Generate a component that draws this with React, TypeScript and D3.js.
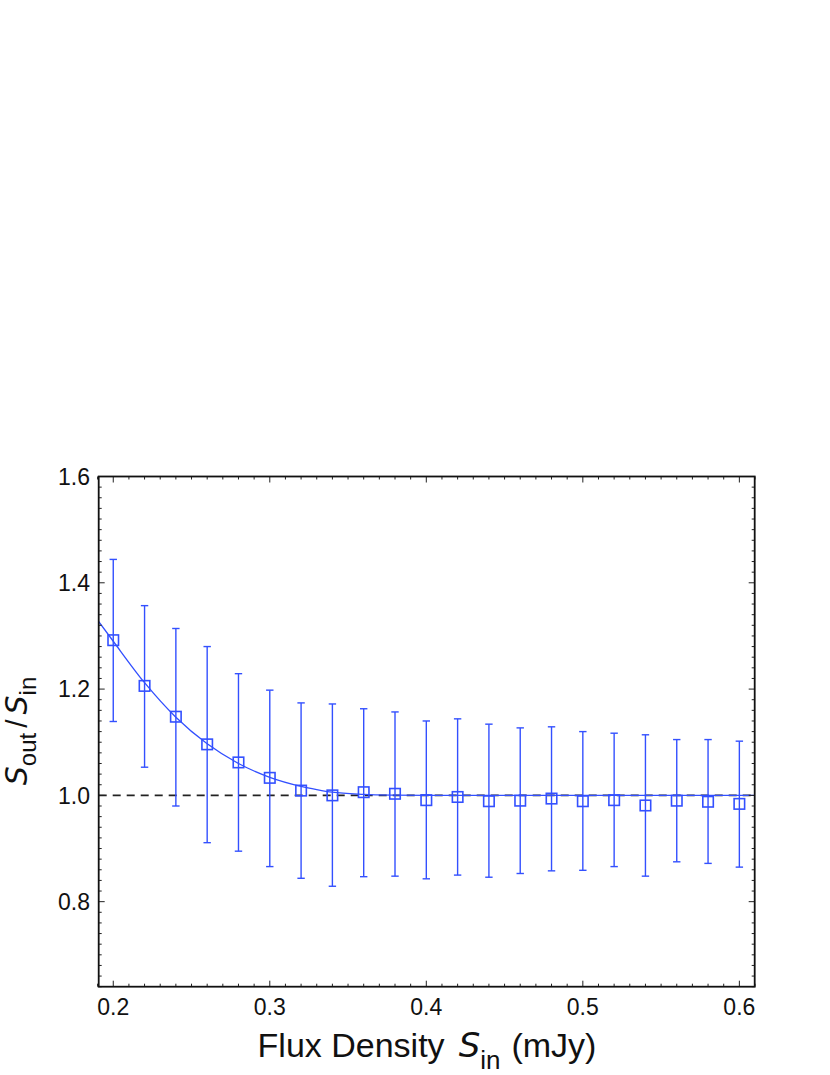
import React from "react";
import * as d3 from "d3";

// Data
const xValues = [0.20, 0.22, 0.24, 0.26, 0.28, 0.30, 0.32, 0.34, 0.36, 0.38, 0.40, 0.42, 0.44, 0.46, 0.48, 0.50, 0.52, 0.54, 0.56, 0.58, 0.60];
const ratio = [1.292, 1.206, 1.148, 1.096, 1.062, 1.033, 1.009, 1.000, 1.006, 1.003, 0.991, 0.997, 0.989, 0.990, 0.994, 0.989, 0.991, 0.981, 0.990, 0.988, 0.984];
const errUpper = [1.444, 1.357, 1.314, 1.280, 1.229, 1.198, 1.174, 1.172, 1.163, 1.157, 1.140, 1.144, 1.134, 1.127, 1.129, 1.120, 1.117, 1.114, 1.105, 1.105, 1.102];
const errLower = [1.139, 1.053, 0.980, 0.911, 0.895, 0.866, 0.844, 0.829, 0.847, 0.848, 0.843, 0.850, 0.846, 0.853, 0.858, 0.859, 0.866, 0.848, 0.875, 0.872, 0.865];

// Fit curve
const fitX = [0.19, 0.20, 0.22, 0.24, 0.26, 0.28, 0.30, 0.32, 0.33, 0.34, 0.36, 0.38, 0.40, 0.61];
const fitY = [1.330, 1.290, 1.212, 1.147, 1.097, 1.060, 1.034, 1.017, 1.011, 1.006, 1.002, 1.0005, 1.000, 1.000];

const xMajorTicks = [0.2, 0.3, 0.4, 0.5, 0.6];
const xTickLabels = ["0.2", "0.3", "0.4", "0.5", "0.6"];
const yMajorTicks = [0.8, 1.0, 1.2, 1.4, 1.6];
const yTickLabels = ["0.8", "1.0", "1.2", "1.4", "1.6"];

const W = 830;
const H = 1075;
const left = 98.7;
const right = 754.7;
const top = 476.5;
const bottom = 986.7;

const BLUE = "#3350ff";
const FONT = "'Liberation Sans', Arial, sans-serif";
const ITAL = "'DejaVu Sans', sans-serif";

export default function App() {
  const x = d3.scaleLinear().domain([0.1907, 0.6098]).range([left, right]);
  const y = d3.scaleLinear().domain([0.64, 1.6]).range([bottom, top]);

  const xMinor = d3.range(19, 62).map((v) => v / 100);
  const yMinor = d3.range(32, 81).map((v) => v / 50);

  const isXMajor = (v: number) => xMajorTicks.some((m) => Math.abs(m - v) < 1e-6);
  const isYMajor = (v: number) => yMajorTicks.some((m) => Math.abs(m - v) < 1e-6);

  const fitLine = d3
    .line<number>()
    .x((_, i) => x(fitX[i]))
    .y((d) => y(d))
    .curve(d3.curveMonotoneX);

  const sq = 10.5;
  const cap = 3.7;

  return (
    <svg width={W} height={H} style={{ position: "absolute", left: 0, top: 0 }} fontFamily={FONT}>
      <rect x={0} y={0} width={W} height={H} fill="white" />
      <defs>
        <clipPath id="plotclip">
          <rect x={left} y={top} width={right - left} height={bottom - top} />
        </clipPath>
      </defs>

      {/* reference line */}
      <line x1={left} x2={right} y1={y(1)} y2={y(1)} stroke="#222" strokeWidth={1.6} strokeDasharray="8,6" />

      <g clipPath="url(#plotclip)">
        <path d={fitLine(fitY) || ""} fill="none" stroke={BLUE} strokeWidth={1.3} />
      </g>

      {/* error bars */}
      {xValues.map((xv, i) => (
        <g key={i} stroke={BLUE} strokeWidth={1.4} fill="none">
          <line x1={x(xv)} x2={x(xv)} y1={y(errUpper[i])} y2={y(errLower[i])} />
          <line x1={x(xv) - cap} x2={x(xv) + cap} y1={y(errUpper[i])} y2={y(errUpper[i])} />
          <line x1={x(xv) - cap} x2={x(xv) + cap} y1={y(errLower[i])} y2={y(errLower[i])} />
          <rect x={x(xv) - sq / 2} y={y(ratio[i]) - sq / 2} width={sq} height={sq} strokeWidth={1.6} />
        </g>
      ))}

      {/* ticks */}
      <g stroke="#222" strokeWidth={1}>
        {xMinor.map((v, i) => {
          const len = isXMajor(v) ? 6 : 3;
          return (
            <g key={"xt" + i}>
              <line x1={x(v)} x2={x(v)} y1={bottom} y2={bottom - len} />
              <line x1={x(v)} x2={x(v)} y1={top} y2={top + len} />
            </g>
          );
        })}
        {yMinor.map((v, i) => {
          const len = isYMajor(v) ? 6 : 3;
          return (
            <g key={"yt" + i}>
              <line x1={left} x2={left + len} y1={y(v)} y2={y(v)} />
              <line x1={right} x2={right - len} y1={y(v)} y2={y(v)} />
            </g>
          );
        })}
      </g>

      {/* frame */}
      <rect x={left} y={top} width={right - left} height={bottom - top} fill="none" stroke="#111" strokeWidth={1.8} />

      {/* tick labels */}
      {xMajorTicks.map((v, i) => (
        <text key={"xl" + i} x={x(v)} y={1015} textAnchor="middle" fontSize={23} fill="#111">
          {xTickLabels[i]}
        </text>
      ))}
      {yMajorTicks.map((v, i) => (
        <text key={"yl" + i} x={90} y={y(v)} dy="0.36em" textAnchor="end" fontSize={23} fill="#111">
          {yTickLabels[i]}
        </text>
      ))}

      {/* x axis title */}
      <text x={427} y={1057} textAnchor="middle" fontSize={34} fill="#111">
        <tspan>Flux Density</tspan>
        <tspan dx={14} fontStyle="italic" fontFamily={ITAL}>S</tspan>
        <tspan fontSize={26} dy={12}>in</tspan>
        <tspan dx={11} dy={-12}>(mJy)</tspan>
      </text>

      {/* y axis title */}
      <text transform={`translate(27, 731) rotate(-90)`} textAnchor="middle" fontSize={30} fill="#111">
        <tspan fontStyle="italic" fontFamily={ITAL}>S</tspan>
        <tspan fontSize={24} dy={9}>out</tspan>
        <tspan dx={5} dy={-9}>/</tspan>
        <tspan dx={5} fontStyle="italic" fontFamily={ITAL}>S</tspan>
        <tspan fontSize={24} dy={9}>in</tspan>
      </text>
    </svg>
  );
}
